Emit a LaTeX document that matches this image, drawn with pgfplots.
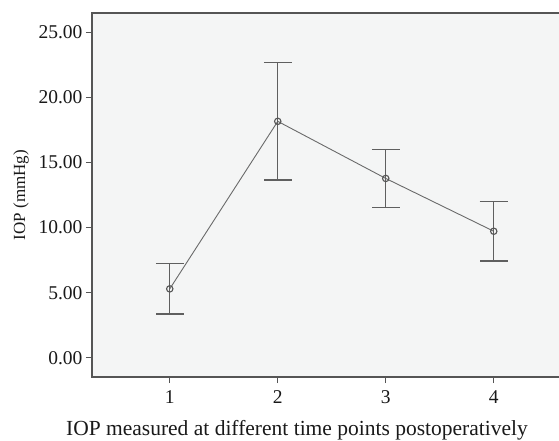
\documentclass[border=0pt]{standalone}
\usepackage{pgfplots}
\pgfplotsset{compat=1.18}
\usepackage{fontspec}
\setmainfont{Liberation Serif}
\definecolor{bgc}{HTML}{F4F5F5}
\definecolor{axc}{HTML}{555555}
\definecolor{lnc}{HTML}{6A6A6A}
\begin{document}
\begin{tikzpicture}
\useasboundingbox (-92pt,-64pt) rectangle (467pt,377pt);
\begin{axis}[
  at={(0,0)}, anchor=south west,
  scale only axis,
  width=479.5pt, height=364pt,
  xmin=0.28, xmax=4.72,
  ymin=-1.46, ymax=26.46,
  xtick={1,2,3,4},
  ytick={0,5,10,15,20,25},
  yticklabel style={/pgf/number format/.cd, fixed, fixed zerofill, precision=2, assume math mode=true},
  xticklabel style={/pgf/number format/assume math mode=true, yshift=-4pt},
  ticklabel style={font=\fontsize{19.5}{19.5}\selectfont, text=black!90},
  tick align=outside,
  xtick pos=left, ytick pos=left,
  major tick length=6pt,
  tick style={axc, line width=1pt},
  axis line style={axc, line width=1.3pt},
  axis background/.style={fill=bgc},
  xlabel={IOP measured at different time points postoperatively},
  xlabel style={at={(axis description cs:0.4275,-0.146)}, anchor=center, font=\fontsize{21.5}{21.5}\selectfont, text=black!90},
  ylabel={IOP (mmHg)},
  ylabel style={at={(axis description cs:-0.148,0.5)}, anchor=center, font=\fontsize{17}{17}\selectfont, text=black!90},
]
\addplot[lnc, line width=0.9pt, mark=o, mark size=3.2pt, mark options={line width=1.1pt, axc},
  error bars/.cd, y dir=both, y explicit,
  error mark=|,
  error bar style={lnc!90!black, line width=1.4pt},
  error mark options={mark size=14pt, line width=1.4pt, lnc!90!black}]
  table[x=x, y=y, y error=e] {
x y e
1 5.30 1.93
2 18.15 4.50
3 13.77 2.24
4 9.72 2.27
};
\end{axis}
\end{tikzpicture}
\end{document}
